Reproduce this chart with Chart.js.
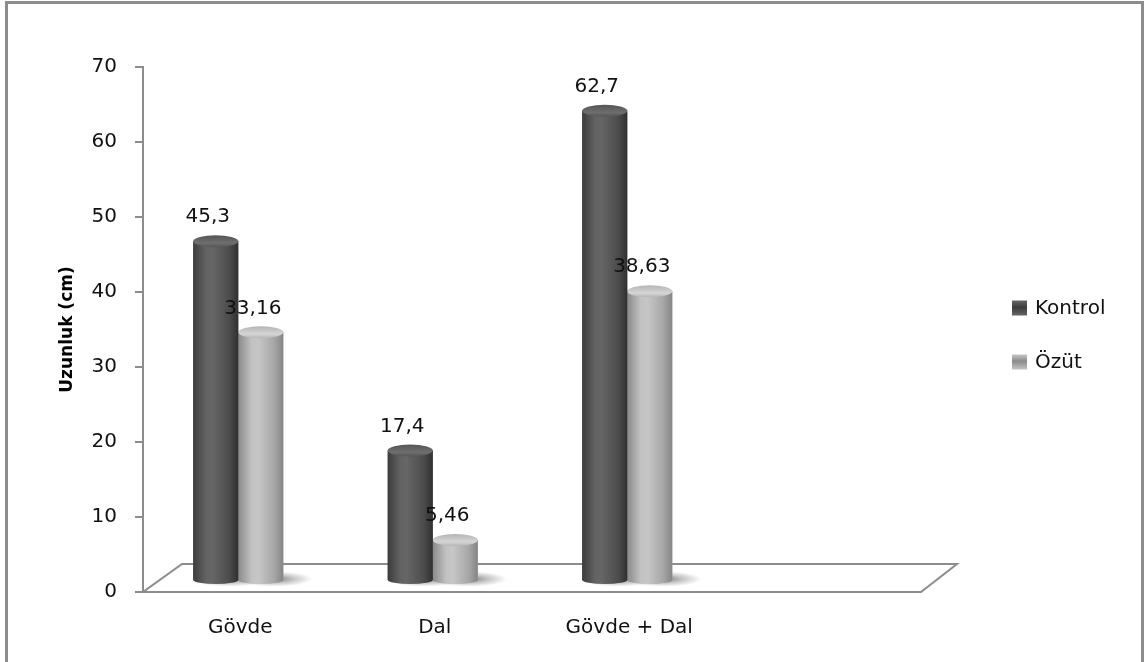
<!DOCTYPE html>
<html>
<head>
<meta charset="utf-8">
<script src="https://cdn.jsdelivr.net/npm/chart.js@4"></script>
<style>
  html, body { margin:0; padding:0; background:#fff; }
  #frame { position:absolute; left:5px; top:1px; width:1139px; height:700px; border:3px solid #8c8c8c; box-sizing:border-box; }
  #wrap { position:absolute; left:0; top:0; width:1144px; height:662px; }
</style>
</head>
<body>
<div id="frame"></div>
<div id="wrap"><canvas id="chart"></canvas></div>
<script>
// data
const categories = ['Gövde', 'Dal', 'Gövde + Dal', ''];
const seriesNames = ['Kontrol', 'Özüt'];
const kontrol = [45.3, 17.4, 62.7, null];
const ozut = [33.16, 5.46, 38.63, null];
const yMin = 0, yMax = 70, yStep = 10;

const FONT = 'DejaVu Sans';
// cylinder shading per series
const shades = [
  { flat:'#555555', stops:[[0,'#3c3c3c'],[0.28,'#626262'],[0.42,'#666666'],[0.8,'#4c4c4c'],[1,'#303030']], cap:'#555555', capHi:'#6e6e6e' },
  { flat:'#b0b0b0', stops:[[0,'#8a8a8a'],[0.3,'#c2c2c2'],[0.45,'#c6c6c6'],[0.8,'#a6a6a6'],[1,'#858585']], cap:'#b4b4b4', capHi:'#d6d6d6' }
];
const SHIFT_X = -2, SHIFT_Y = -11, CAP_RY = 6, BOT_RY = 4;

const fmt = v => String(v).replace('.', ',');

const cylinders = {
  id: 'cylinders',
  beforeDatasetsDraw(chart){
    const {ctx, chartArea:a, scales:{y}} = chart;
    const y0 = y.getPixelForValue(0);
    // floor plane
    ctx.save();
    ctx.strokeStyle = '#8c8c8c';
    ctx.lineWidth = 2;
    ctx.fillStyle = '#ffffff';
    ctx.beginPath();
    ctx.moveTo(a.left, y0);
    ctx.lineTo(a.right, y0);
    ctx.lineTo(a.right + 36, y0 - 28);
    ctx.lineTo(a.left + 39, y0 - 28);
    ctx.closePath();
    ctx.fill();
    ctx.stroke();
    ctx.restore();

    ctx.save();
    ctx.translate(SHIFT_X, SHIFT_Y);
    // soft shadows on floor
    chart.data.datasets.forEach((ds, di) => {
      chart.getDatasetMeta(di).data.forEach((el, i) => {
        if (ds.data[i] == null) return;
        const rx = el.width / 2;
        const cx = el.x + rx * 0.6, cy = el.base - 1;
        ctx.save();
        ctx.translate(cx, cy);
        ctx.scale(1, 0.2);
        const g = ctx.createRadialGradient(0, 0, 4, 0, 0, rx * 1.7);
        g.addColorStop(0, 'rgba(0,0,0,0.45)');
        g.addColorStop(0.5, 'rgba(0,0,0,0.2)');
        g.addColorStop(1, 'rgba(0,0,0,0)');
        ctx.fillStyle = g;
        ctx.beginPath();
        ctx.arc(0, 0, rx * 1.7, 0, Math.PI * 2);
        ctx.fill();
        ctx.restore();
      });
    });
  },
  afterDatasetDraw(chart, args){
    const {ctx} = chart;
    const di = args.index;
    const sh = shades[di];
    const ds = chart.data.datasets[di];
    args.meta.data.forEach((el, i) => {
      if (ds.data[i] == null) return;
      const rx = el.width / 2, x = el.x, top = el.y, base = el.base;
      const g = ctx.createLinearGradient(x - rx, 0, x + rx, 0);
      sh.stops.forEach(s => g.addColorStop(s[0], s[1]));
      ctx.fillStyle = g;
      ctx.beginPath();
      ctx.moveTo(x - rx, top);
      ctx.lineTo(x - rx, base);
      ctx.ellipse(x, base, rx, BOT_RY, 0, Math.PI, 0, true);
      ctx.lineTo(x + rx, top);
      ctx.closePath();
      ctx.fill();
      // top cap
      const cg = ctx.createLinearGradient(0, top - CAP_RY, 0, top + CAP_RY);
      cg.addColorStop(0, sh.cap);
      cg.addColorStop(0.65, sh.capHi);
      cg.addColorStop(1, sh.cap);
      ctx.fillStyle = cg;
      ctx.beginPath();
      ctx.ellipse(x, top, rx, CAP_RY, 0, 0, Math.PI * 2);
      ctx.fill();
    });
  },
  afterDatasetsDraw(chart){
    const {ctx} = chart;
    ctx.restore();
    // value labels
    ctx.save();
    ctx.font = '20px "' + FONT + '"';
    ctx.fillStyle = '#111';
    ctx.textAlign = 'center';
    ctx.textBaseline = 'middle';
    chart.data.datasets.forEach((ds, di) => {
      chart.getDatasetMeta(di).data.forEach((el, i) => {
        const v = ds.data[i];
        if (v == null) return;
        ctx.fillText(fmt(v), el.x + SHIFT_X - 8, el.y + SHIFT_Y - CAP_RY - 18);
      });
    });
    // legend on the right
    chart.data.datasets.forEach((ds, di) => {
      const cy = 308 + di * 54;
      const bx = 1012, bs = 15;
      const g = ctx.createLinearGradient(0, cy - bs / 2, 0, cy + bs / 2);
      g.addColorStop(0, shades[di].stops[2][1]);
      g.addColorStop(0.45, shades[di].stops[0][1]);
      g.addColorStop(1, shades[di].stops[2][1]);
      ctx.fillStyle = g;
      ctx.fillRect(bx, cy - bs / 2, bs, bs);
      ctx.fillStyle = '#111';
      ctx.textAlign = 'left';
      ctx.fillText(ds.label, 1035, cy + 1);
    });
    ctx.restore();
  }
};

new Chart(document.getElementById('chart'), {
  type: 'bar',
  data: {
    labels: categories,
    datasets: [
      { label: seriesNames[0], data: kontrol, backgroundColor: shades[0].flat },
      { label: seriesNames[1], data: ozut, backgroundColor: shades[1].flat }
    ]
  },
  options: {
    responsive: true,
    maintainAspectRatio: false,
    animation: false,
    events: [],
    categoryPercentage: 0.463,
    barPercentage: 1,
    layout: { padding: { top: 67, right: 223, left: 0, bottom: 0 } },
    plugins: { legend: { display: false }, tooltip: { enabled: false } },
    scales: {
      x: {
        afterFit: s => { s.height = 70; },
        grid: { display: false, drawTicks: false },
        border: { display: false },
        ticks: { color: '#111', padding: 24, font: { family: FONT, size: 20 } }
      },
      y: {
        min: yMin, max: yMax,
        afterFit: s => { s.width = 143; },
        grid: { drawOnChartArea: false, drawTicks: true, tickLength: 8, color: '#8c8c8c', lineWidth: 2 },
        border: { display: true, color: '#8c8c8c', width: 2 },
        ticks: { stepSize: yStep, color: '#111', padding: 18, font: { family: FONT, size: 20 } },
        title: { display: true, text: 'Uzunluk (cm)', color: '#000', padding: { top: 57, bottom: 0 }, font: { family: FONT, size: 17, weight: 'bold' } }
      }
    }
  },
  plugins: [cylinders]
});
</script>
</body>
</html>
